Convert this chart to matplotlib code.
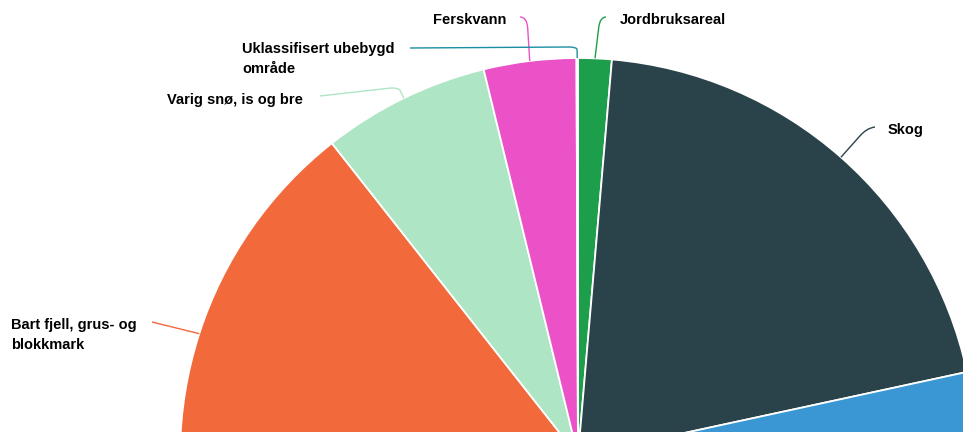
import matplotlib.pyplot as plt
import numpy as np
from matplotlib.path import Path
from matplotlib.patches import PathPatch

# land cover shares (percent), clockwise from 12 o'clock
categories = [
    "Jordbruksareal",
    "Skog",
    "Åpen fastmark",
    "Myr",
    "Bebygd areal",
    "Bart fjell, grus- og blokkmark",
    "Varig snø, is og bre",
    "Ferskvann",
    "Uklassifisert ubebygd område",
]
shares = [1.36, 20.25, 30.0, 12.5, 6.44, 18.83, 6.8, 3.75, 0.06]
colors = ["#1d9e4b", "#2a4249", "#3a97d4", "#b7c4c9", "#f4c540",
          "#f2693b", "#aee5c5", "#eb52c8", "#1b8ea3"]
label_text = {
    "Jordbruksareal": "Jordbruksareal",
    "Skog": "Skog",
    "Bart fjell, grus- og blokkmark": "Bart fjell, grus- og\nblokkmark",
    "Varig snø, is og bre": "Varig snø, is og bre",
    "Ferskvann": "Ferskvann",
    "Uklassifisert ubebygd område": "Uklassifisert ubebygd\nområde",
}

W, H = 963, 432
fig = plt.figure(figsize=(W / 100, H / 100), dpi=100)
ax = fig.add_axes([0, 0, 1, 1])

# pie is bigger than the canvas, centre sits just below the bottom edge
cx, cy, r = 578, H - 456, 398
wedges, _ = ax.pie(shares, colors=colors, startangle=90, counterclock=False,
                   center=(cx, cy), radius=r,
                   wedgeprops=dict(edgecolor="white", linewidth=1.3))
ax.set_xlim(0, W)
ax.set_ylim(0, H)
ax.set_aspect("equal")
ax.axis("off")


def Y(y):
    return H - y


# label layout (pixel coords from the top-left): text anchor, elbow, end of connector
layout = {
    "Jordbruksareal": dict(text=(620, 20), ha="left", elbow=(600, 17), end=(606, 17)),
    "Ferskvann": dict(text=(506, 20), ha="right", elbow=(527, 17), end=(520, 17)),
    "Uklassifisert ubebygd område": dict(text=(242, 59), ha="left", elbow=(577, 47), end=(569, 47), tail=(410, 48)),
    "Varig snø, is og bre": dict(text=(167, 100), ha="left", elbow=(399, 88), end=(391, 88), tail=(320, 96)),
    "Skog": dict(text=(888, 130), ha="left", elbow=(867, 128), end=(875, 127)),
    "Bart fjell, grus- og blokkmark": dict(text=(11, 335), ha="left", elbow=(160, 324), end=(152, 322)),
}

for wedge, name, col in zip(wedges, categories, colors):
    if name not in layout:
        continue
    spec = layout[name]
    mid = np.deg2rad((wedge.theta1 + wedge.theta2) / 2)
    p0 = (cx + r * np.cos(mid), cy + r * np.sin(mid))
    ex, ey = spec["elbow"]
    el = (ex, Y(ey))
    en = (spec["end"][0], Y(spec["end"][1]))
    pre = (p0[0] + 0.75 * (el[0] - p0[0]), p0[1] + 0.75 * (el[1] - p0[1]))
    verts = [p0, pre, el, en]
    codes = [Path.MOVETO, Path.LINETO, Path.CURVE3, Path.CURVE3]
    if "tail" in spec:
        verts.append((spec["tail"][0], Y(spec["tail"][1])))
        codes.append(Path.LINETO)
    ax.add_patch(PathPatch(Path(verts, codes), fill=False, edgecolor=col,
                           linewidth=1.0, clip_on=False))
    tx, ty = spec["text"]
    ax.text(tx, Y(ty), label_text[name], ha=spec["ha"], va="center",
            fontsize=10.5, fontweight="bold", family="Liberation Sans",
            color="#000000", linespacing=1.5)

fig.savefig("out.png", dpi=100)
